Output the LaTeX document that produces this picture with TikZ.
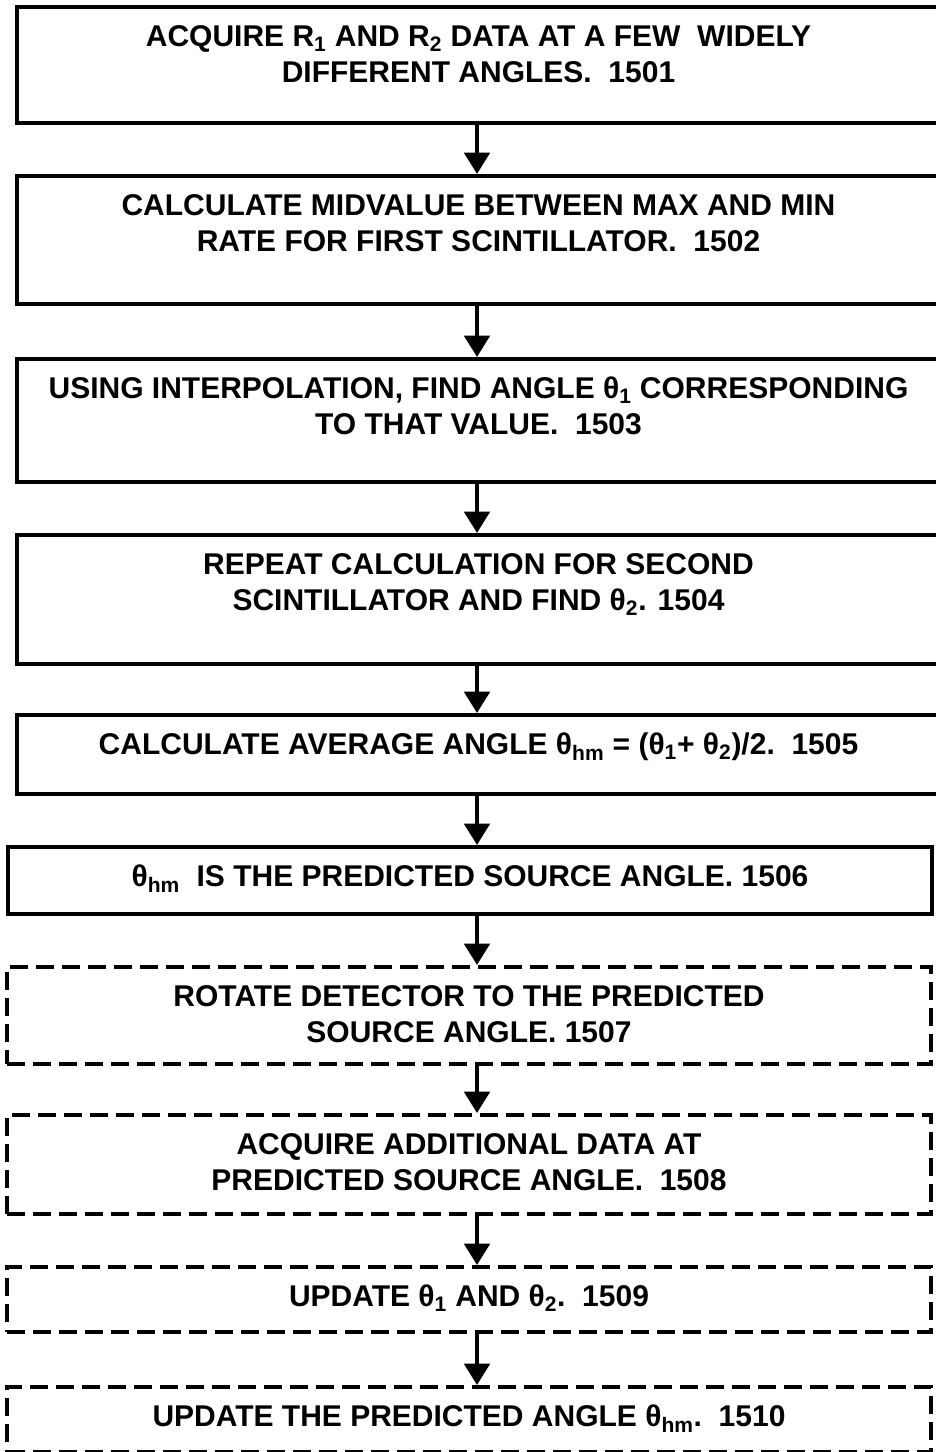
\documentclass[tikz,border=0pt]{standalone}
\usepackage{fontspec}
\setmainfont{Liberation Sans}
\usetikzlibrary{arrows.meta}

\begin{document}
\begin{tikzpicture}[x=0.75pt,y=-0.75pt,
  stepbox/.style={draw, line width=3pt, inner sep=0pt, anchor=north,
    font=\bfseries\fontsize{22.5}{27}\selectfont,
    execute at begin node={\begin{minipage}[c][#1][t]{693pt}\centering\rule{0pt}{29.5pt}},
    execute at end node={\end{minipage}}},
  optbox/.style={stepbox=#1, dash pattern=on 13.5pt off 6pt},
  flow/.style={line width=3pt, -{Triangle[length=16pt,width=19pt]}}]
\useasboundingbox (0,0) rectangle (935,1452);
\coordinate (ax) at (477,0);

\node[stepbox=87pt] (b1) at (478.5,5) {ACQUIRE R\textsubscript{1} AND R\textsubscript{2} DATA AT A FEW\ \ WIDELY\\DIFFERENT ANGLES.\ \ 1501};
\node[stepbox=96pt] (b2) at (478.5,174) {CALCULATE MIDVALUE BETWEEN MAX AND MIN\\RATE FOR FIRST SCINTILLATOR.\ \ 1502};
\node[stepbox=92.25pt] (b3) at (478.5,357) {USING INTERPOLATION, FIND ANGLE θ\textsubscript{1} CORRESPONDING\\TO THAT VALUE.\ \ 1503};
\node[stepbox=96.75pt] (b4) at (478.5,533) {REPEAT CALCULATION FOR SECOND\\SCINTILLATOR AND FIND θ\textsubscript{2}. 1504};
\node[stepbox=59.25pt] (b5) at (478.5,713) {CALCULATE AVERAGE ANGLE θ\textsubscript{hm} = (θ\textsubscript{1}+ θ\textsubscript{2})/2.\ \ 1505};
\node[stepbox=50.25pt] (b6) at (470,845) {θ\textsubscript{hm}\ \ IS THE PREDICTED SOURCE ANGLE. 1506};

\node[optbox=72.75pt] (b7) at (469,965) {ROTATE DETECTOR TO THE PREDICTED\\SOURCE ANGLE. 1507};
\node[optbox=74.25pt] (b8) at (469,1113) {ACQUIRE ADDITIONAL DATA AT\\PREDICTED SOURCE ANGLE.\ \ 1508};
\node[optbox=48.75pt] (b9) at (469,1265) {UPDATE θ\textsubscript{1} AND θ\textsubscript{2}.\ \ 1509};
\node[optbox=48.75pt] (b10) at (469,1385) {UPDATE THE PREDICTED ANGLE θ\textsubscript{hm}.\ \ 1510};

\foreach \a/\b in {b1/b2,b2/b3,b3/b4,b4/b5,b5/b6,b6/b7,b7/b8,b8/b9,b9/b10}
  \draw[flow] (\a.south -| ax) -- (\b.north -| ax);
\end{tikzpicture}
\end{document}
